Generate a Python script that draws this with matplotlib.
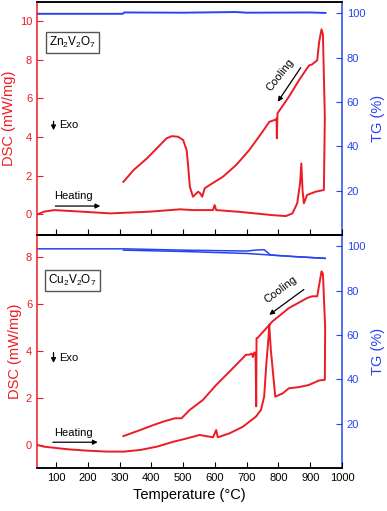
import matplotlib
matplotlib.use("Agg")
import matplotlib.pyplot as plt

plt.rcParams['font.family'] = ['Liberation Sans', 'DejaVu Sans']
plt.rcParams['mathtext.fontset'] = 'custom'
plt.rcParams['mathtext.rm'] = 'Liberation Sans'
plt.rcParams['mathtext.it'] = 'Liberation Sans:italic'
plt.rcParams['mathtext.bf'] = 'Liberation Sans:bold'

RED = '#ec1c24'
BLUE = '#2644f0'

# Zn2V2O7 DSC (heating then cooling, one continuous trace)
zn_T = [42, 62, 94, 180, 271, 396, 490, 531, 594, 599, 604, 677, 781, 823, 844,
        859, 868, 872, 876, 880, 890, 917, 943, 946, 940, 935.5, 928, 922, 906,
        896, 865, 833, 797, 795, 794, 792, 771, 750, 708, 667, 625, 583, 568,
        560, 553, 547, 531, 521, 516, 511, 500, 484, 464, 448, 417, 386, 344, 312]
zn_dsc = [0.0, 0.14, 0.22, 0.14, 0.05, 0.14, 0.26, 0.22, 0.22, 0.48, 0.22, 0.13,
          -0.04, -0.09, 0.05, 0.57, 1.6, 2.63, 1.2, 0.57, 1.0, 1.17, 1.26, 5.0,
          9.3, 9.56, 8.9, 7.96, 7.75, 7.69, 6.94, 6.08, 5.22, 3.93, 4.95, 4.9,
          4.78, 4.27, 3.32, 2.55, 1.94, 1.51, 1.35, 0.91, 1.1, 1.17, 0.91, 1.43,
          2.46, 3.32, 3.84, 4.01, 4.04, 3.93, 3.41, 2.89, 2.29, 1.68]
zn_tg_T = [42, 310, 314, 500, 666, 700, 900, 948]
zn_tg = [99.7, 99.7, 100.3, 100.2, 100.5, 100.2, 100.3, 100.1]

# Cu2V2O7 DSC
cu_T = [42, 62, 136, 198, 261, 313, 365, 417, 469, 511, 552, 594, 604, 609, 646,
        688, 729, 745, 755, 762, 769, 771, 776, 790, 813, 833, 865, 896, 927,
        946, 947, 940, 935.5, 922, 906, 891, 833, 781, 734, 731, 730, 728, 724,
        720, 716, 708, 698, 677, 646, 604, 562, 521, 505, 495, 474, 438, 406,
        365, 312]
cu_dsc = [0.0, -0.07, -0.18, -0.24, -0.28, -0.28, -0.21, -0.07, 0.14, 0.28,
          0.43, 0.33, 0.64, 0.33, 0.5, 0.78, 1.21, 1.5, 2.06, 3.49, 4.63, 5.13,
          4.06, 2.06, 2.2, 2.42, 2.47, 2.56, 2.75, 2.78, 5.0, 7.3, 7.4, 6.34,
          6.34, 6.27, 5.84, 5.27, 4.56, 4.55, 1.65, 3.9, 3.95, 3.75, 3.9, 3.85,
          3.85, 3.56, 3.13, 2.56, 1.92, 1.5, 1.28, 1.14, 1.14, 1.0, 0.85, 0.64,
          0.38]
cu_tg_heat_T = [42, 312, 500, 700, 735, 755, 775, 850, 947]
cu_tg_heat = [98.8, 98.8, 98.2, 97.8, 98.3, 98.4, 96.0, 95.3, 94.5]
cu_tg_cool_T = [947, 850, 775, 700, 500, 312]
cu_tg_cool = [94.5, 95.3, 96.0, 96.7, 97.6, 98.2]

fig = plt.figure(figsize=(3.87, 5.11), dpi=100)
ax_top = fig.add_axes([0.0956, 0.540, 0.7881, 0.456])
ax_bot = fig.add_axes([0.0956, 0.0841, 0.7881, 0.4559])


def style(ax, tg_ax, ylim, yticks, labels_x):
    ax.set_xlim(40, 1000)
    ax.set_ylim(*ylim)
    ax.set_yticks(yticks)
    tg_ax.set_ylim(0, 105)
    tg_ax.set_yticks([20, 40, 60, 80, 100])
    ax.set_xticks(range(100, 1001, 100))
    ax.tick_params(axis='x', direction='in', length=4, labelsize=8,
                   labelbottom=labels_x, color='black')
    ax.tick_params(axis='y', direction='in', length=4, labelsize=8,
                   colors=RED)
    tg_ax.tick_params(axis='y', direction='in', length=4, labelsize=8,
                      colors=BLUE)
    ax.spines['left'].set_color(RED)
    ax.spines['right'].set_visible(False)
    tg_ax.spines['left'].set_visible(False)
    tg_ax.spines['right'].set_color(BLUE)
    for a in (ax, tg_ax):
        for s in a.spines.values():
            s.set_linewidth(1.1)
    ax.set_ylabel('DSC (mW/mg)', color=RED, fontsize=10.5, labelpad=3)
    tg_ax.set_ylabel('TG (%)', color=BLUE, fontsize=10.5, labelpad=4)


tg_top = ax_top.twinx()
tg_top.plot(zn_tg_T, zn_tg, color=BLUE, lw=1.4)
ax_top.plot(zn_T, zn_dsc, color=RED, lw=1.4)
style(ax_top, tg_top, (-1.07, 10.97), [0, 2, 4, 6, 8, 10], False)

tg_bot = ax_bot.twinx()
tg_bot.plot(cu_tg_heat_T, cu_tg_heat, color=BLUE, lw=1.1)
tg_bot.plot(cu_tg_cool_T, cu_tg_cool, color=BLUE, lw=1.1)
ax_bot.plot(cu_T, cu_dsc, color=RED, lw=1.4)
style(ax_bot, tg_bot, (-0.98, 8.95), [0, 2, 4, 6, 8], True)
ax_bot.set_xlabel('Temperature (°C)', fontsize=10.5, labelpad=4)

ax_top.set_zorder(tg_top.get_zorder() + 1)
ax_bot.set_zorder(tg_bot.get_zorder() + 1)
for ax in (ax_top, ax_bot):
    ax.patch.set_visible(False)

box = dict(boxstyle='square,pad=0.25', fc='white', ec='#555555', lw=1.0)
ax_top.text(151, 8.87, 'Zn$_2$V$_2$O$_7$', fontsize=8.5, ha='center', va='center', bbox=box)
ax_bot.text(152, 7.0, 'Cu$_2$V$_2$O$_7$', fontsize=8.5, ha='center', va='center', bbox=box)

arrow = dict(arrowstyle='-|>', color='black', lw=0.9, mutation_scale=7)
# Exo
ax_top.annotate('', xy=(92, 4.2), xytext=(92, 4.95), arrowprops=arrow)
ax_top.text(110, 4.6, 'Exo', fontsize=8, va='center')
ax_bot.annotate('', xy=(92, 3.38), xytext=(92, 4.06), arrowprops=arrow)
ax_bot.text(110, 3.7, 'Exo', fontsize=8, va='center')
# Heating
ax_top.annotate('', xy=(248, 0.43), xytext=(89, 0.43), arrowprops=arrow)
ax_top.text(93, 0.95, 'Heating', fontsize=8, va='center')
ax_bot.annotate('', xy=(240, 0.12), xytext=(81, 0.12), arrowprops=arrow)
ax_bot.text(95, 0.53, 'Heating', fontsize=8, va='center')
# Cooling
ax_top.annotate('', xy=(793, 5.7), xytext=(875, 7.7), arrowprops=arrow)
ax_top.text(804, 7.2, 'Cooling', fontsize=8, ha='center', va='center', rotation=52)
ax_bot.annotate('', xy=(764, 5.48), xytext=(887, 6.7), arrowprops=arrow)
ax_bot.text(807, 6.62, 'Cooling', fontsize=8, ha='center', va='center', rotation=37)

fig.savefig('out.png', dpi=100)
